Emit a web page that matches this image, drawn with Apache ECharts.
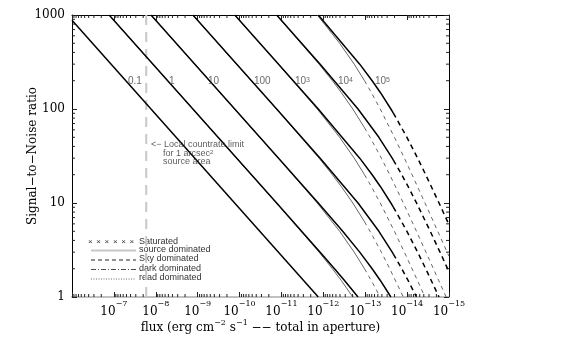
<!DOCTYPE html>
<html><head><meta charset="utf-8">
<script src="https://cdn.jsdelivr.net/npm/echarts@6/dist/echarts.min.js"></script>
<style>html,body{margin:0;padding:0;background:#fff}#c{width:585px;height:345px}</style>
</head><body><div id="c"></div>
<script>
// ---- data: [flux, signal-to-noise] ----
const src01  = [[1e-6,877],[1.32e-12,1]];
const src1   = [[1.3e-7,1000],[1.302e-11,10],[1.191e-12,3],[5.41e-13,2],[3.125e-13,1.5],[1.486e-13,1]];
const src10  = [[1.3e-8,1000],[1.172e-11,30],[1.321e-12,10],[3.45e-13,5],[1.354e-13,3],[6.83e-14,2],[4.36e-14,1.5],[2.44e-14,1]];
const src100 = [[1.3e-9,1000],[1.302e-11,100],[1.191e-12,30],[1.486e-13,10],[4.72e-14,5],[2.27e-14,3],[2.13e-14,2.864]];
const sky100 = [[2.13e-14,2.864],[1.344e-14,2],[9.49e-15,1.5],[5.95e-15,1]];
const src1e3 = [[1.3e-10,1000],[1.172e-11,300],[1.321e-12,100],[1.354e-13,30],[6.83e-14,20],[4.36e-14,15],[2.44e-14,10],[2.13e-14,9.055]];
const sky1e3 = [[2.13e-14,9.055],[1.01e-14,5],[5.61e-15,3],[3.6e-15,2],[1.73e-15,1]];
const src1e4 = [[1.302e-11,1000],[1.191e-12,300],[1.486e-13,100],[4.72e-14,50],[2.27e-14,30],[2.13e-14,28.64]];
const sky1e4 = [[2.13e-14,28.64],[1.344e-14,20],[9.49e-15,15],[5.95e-15,10],[2.8e-15,5],[1.64e-15,3],[1e-15,1.856]];
const src1e5 = [[1.321e-12,1000],[1.354e-13,300],[6.83e-14,200],[4.36e-14,150],[2.44e-14,100],[2.13e-14,90.55]];
const sky1e5 = [[2.13e-14,90.55],[1.01e-14,50],[5.61e-15,30],[3.6e-15,20],[1.73e-15,10],[1e-15,5.87]];

const thinSrc1   = [[1.3e-7,1000],[1.31e-11,10],[1.266e-12,3],[6.09e-13,2],[3.74e-13,1.5],[1.98e-13,1]];
const thinSrc10  = [[1.3e-8,1000],[1.18e-11,30],[1.396e-12,10],[4.08e-13,5],[1.834e-13,3],[1.04e-13,2]];
const thinSky10  = [[1.04e-13,2],[7.17e-14,1.5],[4.38e-14,1]];
const thinSrc100 = [[1.3e-9,1000],[1.31e-11,100],[1.266e-12,30],[6.09e-13,20],[3.74e-13,15],[1.98e-13,10],[1.04e-13,6.32]];
const thinSky100 = [[1.04e-13,6.32],[7.66e-14,5],[4.12e-14,3],[2.6e-14,2],[1.23e-14,1]];
const thinSrc1e3 = [[1.3e-10,1000],[1.18e-11,300],[1.396e-12,100],[4.08e-13,50],[1.834e-13,30],[1.04e-13,20]];
const thinSky1e3 = [[1.04e-13,20],[7.17e-14,15],[4.38e-14,10],[2.01e-14,5],[1.163e-14,3],[7.62e-15,2],[3.74e-15,1]];
const thinSrc1e4 = [[1.31e-11,1000],[1.266e-12,300],[6.09e-13,200],[3.74e-13,150],[1.98e-13,100],[1.04e-13,63.2]];
const thinSky1e4 = [[1.04e-13,63.2],[7.66e-14,50],[4.12e-14,30],[2.6e-14,20],[1.23e-14,10],[5.98e-15,5],[3.55e-15,3],[1.169e-15,1]];
const thinSrc1e5 = [[1.396e-12,1000],[4.08e-13,500],[1.834e-13,300],[1.04e-13,200]];
const thinSky1e5 = [[1.04e-13,200],[7.17e-14,150],[4.38e-14,100],[2.01e-14,50],[1.163e-14,30],[7.62e-15,20],[3.74e-15,10],[1e-15,2.71]];

const countLimitFlux = 1.69e-8;
const lineLabelText = ['0.1','1','10','100','10{s|3}','10{s|4}','10{s|5}'];
const lineLabelFlux = [4.61e-8, 4.84e-9, 5.68e-10, 4.53e-11, 4.76e-12, 4.48e-13, 5.86e-14];
const lineLabelSnr  = [195, 195, 195, 195, 195, 195, 195];
const annoText = ['<\u2212 Local countrate limit', 'for 1 arcsec{s|2}', 'source area'];
const annoFlux = [1.3e-8, 6.73e-9, 6.73e-9];
const annoSnr  = [41.4, 33.6, 27.3];

const xMin = 1e-15, xMax = 1e-6, yMin = 1, yMax = 1000;
const xDecades = [-15,-14,-13,-12,-11,-10,-9,-8,-7];
const yDecades = [0,1,2];
const minorMult = [2,3,4,5,6,7,8,9];

const legendItems = ['Saturated','source dominated','Sky dominated','dark dominated','read dominated'];

// ---- build ----
const xMinorData = [];
xDecades.forEach(e => minorMult.forEach(m => xMinorData.push([m * Math.pow(10, e), yMin])));
const yMinorData = [];
yDecades.forEach(e => minorMult.forEach(m => yMinorData.push([xMax, m * Math.pow(10, e)])));

const serif = 'DejaVu Serif';
const sans = 'Liberation Sans';
const TICK = '#222';

function supLabel(v) {
  const e = Math.round(Math.log10(v));
  if (e === -6) return '';
  return '{b|10}{s|\u2212' + (-e) + '}';
}

const thick = {color:'#000', width:1.5};
const thickDash = {color:'#000', width:1.5, type:[5,4]};
const thin = {color:'#555', width:0.9};
const thinDash = {color:'#555', width:0.9, type:[4,4]};

function lineSeries(data, style, z) {
  return {type:'line', data:data, showSymbol:false, symbol:'none', lineStyle:style, z:z, silent:true, animation:false, clip:true};
}

function minorX(params, api) {
  const v = api.value(0);
  const b = api.coord([v, yMin]);
  const t = api.coord([v, yMax]);
  return {type:'group', children:[
    {type:'line', shape:{x1:b[0], y1:b[1], x2:b[0], y2:b[1]-3}, style:{stroke:TICK, lineWidth:1}},
    {type:'line', shape:{x1:t[0], y1:t[1], x2:t[0], y2:t[1]+3}, style:{stroke:TICK, lineWidth:1}}
  ]};
}
function minorY(params, api) {
  const v = api.value(1);
  const l = api.coord([xMax, v]);
  const r = api.coord([xMin, v]);
  return {type:'group', children:[
    {type:'line', shape:{x1:l[0], y1:l[1], x2:l[0]+3, y2:l[1]}, style:{stroke:TICK, lineWidth:1}},
    {type:'line', shape:{x1:r[0], y1:r[1], x2:r[0]-3, y2:r[1]}, style:{stroke:TICK, lineWidth:1}}
  ]};
}

const supRich = {
  b:{fontFamily:serif, fontSize:12, color:'#000', lineHeight:18, verticalAlign:'bottom'},
  s:{fontFamily:serif, fontSize:8, color:'#000', lineHeight:8, verticalAlign:'top'}
};

const chart = echarts.init(document.getElementById('c'), null, {renderer:'canvas'});

const series = [
  {type:'line', data:[[countLimitFlux, yMin],[countLimitFlux, yMax]], showSymbol:false, symbol:'none',
   lineStyle:{color:'#c8c8c8', width:2, type:[10,7]}, z:1, silent:true, animation:false},
  lineSeries(thinSrc1, thin, 2), lineSeries(thinSrc10, thin, 2), lineSeries(thinSky10, thinDash, 2),
  lineSeries(thinSrc100, thin, 2), lineSeries(thinSky100, thinDash, 2),
  lineSeries(thinSrc1e3, thin, 2), lineSeries(thinSky1e3, thinDash, 2),
  lineSeries(thinSrc1e4, thin, 2), lineSeries(thinSky1e4, thinDash, 2),
  lineSeries(thinSrc1e5, thin, 2), lineSeries(thinSky1e5, thinDash, 2),
  lineSeries(src01, thick, 3), lineSeries(src1, thick, 3), lineSeries(src10, thick, 3),
  lineSeries(src100, thick, 3), lineSeries(sky100, thickDash, 3),
  lineSeries(src1e3, thick, 3), lineSeries(sky1e3, thickDash, 3),
  lineSeries(src1e4, thick, 3), lineSeries(sky1e4, thickDash, 3),
  lineSeries(src1e5, thick, 3), lineSeries(sky1e5, thickDash, 3),
  {type:'custom', renderItem:minorX, data:xMinorData, encode:{x:0,y:1}, clip:false, silent:true, z:4, animation:false},
  {type:'custom', renderItem:minorY, data:yMinorData, encode:{x:0,y:1}, clip:false, silent:true, z:4, animation:false},
  {type:'scatter', symbolSize:0, silent:true, animation:false, z:5,
   data:lineLabelFlux.map((f,i)=>({value:[f, lineLabelSnr[i]], name:lineLabelText[i]})),
   label:{show:true, position:'right', distance:0, formatter:p=>p.name,
     fontFamily:sans, fontSize:10, color:'#444',
     rich:{s:{fontFamily:sans, fontSize:7, color:'#444', verticalAlign:'top', lineHeight:8}}}},
  {type:'scatter', symbolSize:0, silent:true, animation:false, z:5,
   data:annoFlux.map((f,i)=>({value:[f, annoSnr[i]], name:annoText[i]})),
   label:{show:true, position:'right', distance:0, formatter:p=>p.name,
     fontFamily:sans, fontSize:9, color:'#333',
     rich:{s:{fontFamily:sans, fontSize:6, color:'#333', verticalAlign:'top', lineHeight:6}}}}
];

// legend (layout graphics)
const lgX0 = 91, lgX1 = 136, lgTextX = 139, lgY = [242.5, 250.5, 260, 269.5, 279];
const graphic = [];
for (let i = 0; i < 6; i++) {
  graphic.push({type:'text', x:88 + i*8.3, y:lgY[0]-4.5, style:{text:'\u00d7', font:'8px '+sans, fill:'#333'}});
}
graphic.push({type:'line', shape:{x1:lgX0, y1:lgY[1], x2:lgX1, y2:lgY[1]}, style:{stroke:'#c8c8c8', lineWidth:2}});
graphic.push({type:'line', shape:{x1:lgX0, y1:lgY[2], x2:lgX1, y2:lgY[2]}, style:{stroke:'#222', lineWidth:1, lineDash:[4,3]}});
graphic.push({type:'line', shape:{x1:lgX0, y1:lgY[3], x2:lgX1, y2:lgY[3]}, style:{stroke:'#222', lineWidth:0.8, lineDash:[5,2,1,2]}});
graphic.push({type:'line', shape:{x1:lgX0, y1:lgY[4], x2:lgX1, y2:lgY[4]}, style:{stroke:'#444', lineWidth:0.8, lineDash:[1,1.5]}});
legendItems.forEach((t,i)=>{
  graphic.push({type:'text', x:lgTextX, y:lgY[i]-5.5, style:{text:t, font:'9px '+sans, fill:'#333'}});
});

const baseX = {
  type:'log', logBase:10, min:xMin, max:xMax, inverse:true, splitNumber:9,
  splitLine:{show:false}, minorTick:{show:false}
};
const baseY = {
  type:'log', logBase:10, min:yMin, max:yMax, splitNumber:3,
  splitLine:{show:false}, minorTick:{show:false}
};

chart.setOption({
  animation:false,
  backgroundColor:'#fff',
  grid:{left:72, right:136, top:15, bottom:48, containLabel:false},
  graphic: graphic,
  xAxis:[
    Object.assign({}, baseX, {
      position:'bottom',
      axisLine:{show:true, lineStyle:{color:'#c0c0c0', width:2}},
      axisTick:{show:true, inside:true, length:5, lineStyle:{color:TICK}},
      axisLabel:{show:true, margin:3, formatter:supLabel, rich:supRich, showMinLabel:true, showMaxLabel:true},
      name:'flux (erg cm{s|\u22122} s{s|\u22121} \u2212\u2212 total in aperture)',
      nameLocation:'middle', nameGap:22, nameMoveOverlap:false,
      nameTextStyle:{fontFamily:serif, fontSize:12, color:'#000', lineHeight:18, verticalAlign:'top',
        rich:{s:{fontFamily:serif, fontSize:8, color:'#000', lineHeight:8, verticalAlign:'top'}}}
    }),
    Object.assign({}, baseX, {
      position:'top',
      axisLine:{show:true, lineStyle:{color:'#000', width:1}},
      axisTick:{show:true, inside:true, length:5, lineStyle:{color:TICK}},
      axisLabel:{show:false}
    })
  ],
  yAxis:[
    Object.assign({}, baseY, {
      position:'left',
      axisLine:{show:true, lineStyle:{color:'#000', width:1}},
      axisTick:{show:true, inside:true, length:5, lineStyle:{color:TICK}},
      axisLabel:{show:true, margin:7, fontFamily:serif, fontSize:12, color:'#000', formatter:v=>String(Math.round(v))},
      name:'Signal\u2212to\u2212Noise ratio', nameLocation:'middle', nameGap:33, nameMoveOverlap:false,
      nameTextStyle:{fontFamily:serif, fontSize:12, color:'#000'}
    }),
    Object.assign({}, baseY, {
      position:'right',
      axisLine:{show:true, lineStyle:{color:'#000', width:1}},
      axisTick:{show:true, inside:true, length:5, lineStyle:{color:TICK}},
      axisLabel:{show:false}
    })
  ],
  series: series
});
</script>
</body></html>
